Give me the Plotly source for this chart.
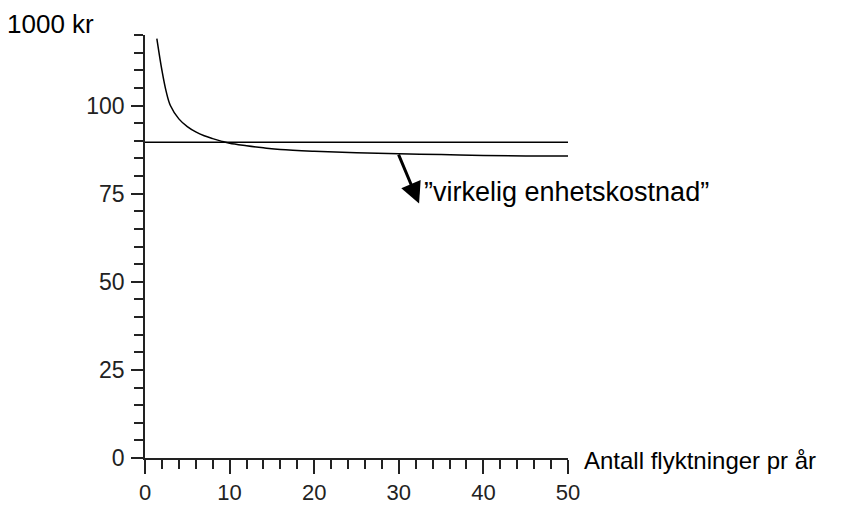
import plotly.graph_objects as go

# Antall flyktninger pr år (x) og enhetskostnad i 1000 kr (y)
refugees = [1.4, 2, 2.5, 3, 4, 5, 6, 7, 8, 9, 10, 12, 14, 16, 20, 25, 30, 35, 40, 45, 50]
real_unit_cost = [119, 110, 104, 100, 96.2, 94, 92.5, 91.4, 90.6, 89.9, 89.3, 88.6,
                  88.0, 87.5, 87.0, 86.6, 86.3, 86.1, 85.8, 85.7, 85.7]
flat_x = [0, 50]
flat_cost = [89.6, 89.6]

arrow_tail = (29.9, 86.5)
arrow_tip = (32.4, 72.2)

x_ticks = [0, 10, 20, 30, 40, 50]
y_ticks = [0, 25, 50, 75, 100]

FONT = "Liberation Sans, Arial, sans-serif"

fig = go.Figure()
fig.add_trace(go.Scatter(x=flat_x, y=flat_cost, mode="lines",
                         line=dict(color="black", width=1.5), showlegend=False))
fig.add_trace(go.Scatter(x=refugees, y=real_unit_cost, mode="lines",
                         line=dict(color="black", width=1.5, shape="spline"),
                         showlegend=False))

fig.update_xaxes(range=[0, 50], tickvals=x_ticks, ticktext=[str(v) for v in x_ticks],
                 ticks="outside", ticklen=14, tickwidth=1.5, tickcolor="#222",
                 minor=dict(dtick=2, ticks="outside", ticklen=9, tickwidth=1.5, tickcolor="#222"),
                 showline=True, linecolor="#222", linewidth=1.5, showgrid=False,
                 zeroline=False, tickfont=dict(family=FONT, size=22, color="#222"),
                 automargin=False, ticklabelstandoff=0)
fig.update_yaxes(range=[0, 120], tickvals=y_ticks, ticktext=[str(v) for v in y_ticks],
                 ticks="outside", ticklen=12, tickwidth=1.5, tickcolor="#222",
                 minor=dict(dtick=5, ticks="outside", ticklen=9, tickwidth=1.5, tickcolor="#222"),
                 showline=True, linecolor="#222", linewidth=1.5, showgrid=False,
                 zeroline=False, tickfont=dict(family=FONT, size=23, color="#222"),
                 automargin=False, ticklabelstandoff=2)

fig.add_annotation(x=arrow_tip[0], y=arrow_tip[1], ax=arrow_tail[0], ay=arrow_tail[1],
                   xref="x", yref="y", axref="x", ayref="y", text="",
                   showarrow=True, arrowhead=2, arrowsize=1.4, arrowwidth=3,
                   arrowcolor="black")
fig.add_annotation(x=32.8, y=75.5, xref="x", yref="y", text="”virkelig enhetskostnad”",
                   showarrow=False, xanchor="left", yanchor="middle",
                   font=dict(family=FONT, size=27, color="black"))
fig.add_annotation(x=50, y=0, xref="x", yref="y", text="Antall flyktninger pr år",
                   showarrow=False, xanchor="left", yanchor="middle", xshift=14,
                   yshift=-2, font=dict(family=FONT, size=24, color="black"))
fig.add_annotation(x=0, y=1, xref="paper", yref="paper", text="1000 kr",
                   showarrow=False, xanchor="left", yanchor="top",
                   xshift=-140, yshift=28, font=dict(family=FONT, size=26, color="black"))

fig.update_layout(width=846, height=505, margin=dict(l=145, r=278, t=35, b=47),
                  plot_bgcolor="white", paper_bgcolor="white")

fig.write_html("out.html")
